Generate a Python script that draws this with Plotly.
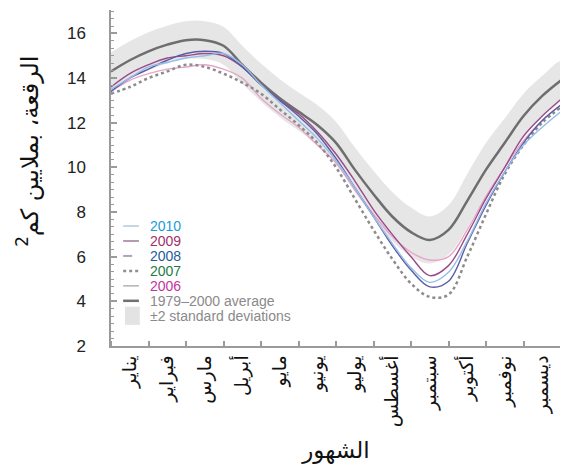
import plotly.graph_objects as go

# Month positions (half-month steps, 0 = 1 January, 12 = 31 December)
months_x = [i * 0.5 for i in range(25)]

month_labels = ["يناير", "فبراير", "مارس", "أبريل", "مايو", "يونيو",
                "يوليو", "أغسطس", "سبتمبر", "أكتوبر", "نوفمبر", "ديسمبر"]
month_centers = [i + 0.5 for i in range(12)]

avg_1979_2000 = [14.3, 14.8, 15.2, 15.5, 15.7, 15.7, 15.45, 14.6, 13.8, 13.1, 12.5, 11.9,
                 11.1, 9.9, 8.8, 7.8, 7.1, 6.75, 7.2, 8.5, 9.9, 11.1, 12.3, 13.2, 13.9]
std2 = [0.85, 0.85, 0.85, 0.85, 0.85, 0.85, 0.85, 0.85, 0.85, 0.85, 0.85, 0.9,
        0.95, 1.0, 1.05, 1.1, 1.1, 1.05, 1.1, 1.2, 1.2, 1.1, 1.0, 0.9, 0.85]

y2010 = [13.5, 14.0, 14.5, 14.7, 14.9, 15.0, 15.1, 14.6, 13.7, 12.9, 12.1, 11.3,
         10.3, 9.1, 7.8, 6.6, 5.5, 4.85, 5.3, 6.7, 8.4, 9.8, 11.0, 11.8, 12.5]
y2009 = [13.6, 14.2, 14.6, 14.9, 15.0, 15.1, 15.0, 14.5, 13.7, 13.0, 12.4, 11.6,
         10.6, 9.4, 8.1, 7.0, 6.0, 5.15, 5.6, 7.0, 8.6, 10.0, 11.4, 12.3, 13.05]
y2008 = [13.4, 14.0, 14.4, 14.8, 15.1, 15.2, 15.1, 14.5, 13.7, 13.0, 12.3, 11.5,
         10.4, 9.1, 7.8, 6.5, 5.4, 4.65, 4.9, 6.6, 8.3, 9.8, 11.1, 12.1, 12.8]
y2007 = [13.3, 13.6, 14.0, 14.3, 14.6, 14.5, 14.2, 13.8, 13.3, 12.6, 11.9, 11.1,
         10.0, 8.6, 7.2, 5.9, 4.8, 4.2, 4.3, 6.0, 7.9, 9.7, 11.0, 12.0, 12.7]
y2006 = [13.4, 13.9, 14.2, 14.4, 14.5, 14.6, 14.4, 14.0, 13.1, 12.4, 11.8, 11.0,
         10.2, 9.0, 7.9, 6.9, 6.2, 5.85, 6.0, 7.2, 8.7, 10.0, 11.2, 12.1, 12.8]

legend_labels = ["2010", "2009", "2008", "2007", "2006",
                 "1979–2000 average", "±2 standard deviations"]
legend_text_colors = ["#1a9ad6", "#a1306a", "#1f5b9a", "#1e7a45", "#c3359a",
                      "#8a8a8a", "#8a8a8a"]
legend_sample_colors = ["#b4c8dc", "#a07890", "#a0a8c0", "#909090", "#b8b0b8",
                        "#707070", "#e3e3e3"]
legend_sample_dash = ["solid", "solid", "dash", "dot", "solid", "solid", "solid"]
legend_sample_width = [1.5, 1.5, 2, 2.5, 1.5, 2.5, 0]

upper = [a + s for a, s in zip(avg_1979_2000, std2)]
lower = [a - s for a, s in zip(avg_1979_2000, std2)]

fig = go.Figure()

fig.add_trace(go.Scatter(x=months_x + months_x[::-1], y=upper + lower[::-1],
                         fill="toself", fillcolor="#e6e6e6", line=dict(width=0, shape="spline"),
                         mode="lines", hoverinfo="skip", name=legend_labels[6]))
fig.add_trace(go.Scatter(x=months_x, y=avg_1979_2000, mode="lines", name=legend_labels[5],
                         line=dict(color="#6e6e6e", width=2.5, shape="spline")))
fig.add_trace(go.Scatter(x=months_x, y=y2006, mode="lines", name="2006",
                         line=dict(color="#e6a6c8", width=1.4, shape="spline")))
fig.add_trace(go.Scatter(x=months_x, y=y2007, mode="lines", name="2007",
                         line=dict(color="#8c8c8c", width=2.5, dash="dot", shape="spline")))
fig.add_trace(go.Scatter(x=months_x, y=y2009, mode="lines", name="2009",
                         line=dict(color="#9a4a86", width=1.4, shape="spline")))
fig.add_trace(go.Scatter(x=months_x, y=y2008, mode="lines", name="2008",
                         line=dict(color="#5c5ca6", width=1.4, shape="spline")))
fig.add_trace(go.Scatter(x=months_x, y=y2010, mode="lines", name="2010",
                         line=dict(color="#94bde8", width=1.4, shape="spline")))

# Compact legend (paper coordinates inside the plot area)
leg_top = 0.357
leg_step = 0.0445
for i, (lab, tc) in enumerate(zip(legend_labels, legend_text_colors)):
    yc = leg_top - i * leg_step
    if i == 6:
        fig.add_shape(type="rect", xref="paper", yref="paper",
                      x0=0.031, x1=0.064, y0=yc - 0.027, y1=yc + 0.027,
                      fillcolor=legend_sample_colors[i], line=dict(width=0))
    else:
        fig.add_shape(type="line", xref="paper", yref="paper",
                      x0=0.027, x1=0.062, y0=yc, y1=yc,
                      line=dict(color=legend_sample_colors[i], width=legend_sample_width[i],
                                dash=legend_sample_dash[i]))
    fig.add_annotation(xref="paper", yref="paper", x=0.082, y=yc, text=lab,
                       xanchor="left", yanchor="middle", showarrow=False,
                       font=dict(family="Liberation Sans, Arial", size=14, color=tc))

# Y-axis title (rotated)
fig.add_annotation(xref="paper", yref="paper", x=-0.185, y=0.58,
                   text="الرقعة، بملايين كم<sup>2</sup>", textangle=-90, showarrow=False,
                   xanchor="center", yanchor="middle",
                   font=dict(family="DejaVu Sans", size=24, color="#111"))

fig.update_layout(
    width=568, height=469,
    margin=dict(l=103, r=15, t=2, b=131),
    paper_bgcolor="white", plot_bgcolor="white",
    showlegend=False,
    xaxis=dict(range=[0, 12], tickmode="array", tickvals=month_centers, ticktext=month_labels,
               tickangle=-90, ticks="", showgrid=False, zeroline=False,
               showline=True, linecolor="#9a9a9a", linewidth=1.5,
               tickfont=dict(family="DejaVu Sans", size=19, color="#111"),
               minor=dict(tickmode="linear", tick0=0, dtick=1, ticks="inside",
                          ticklen=5, tickcolor="#9a9a9a", tickwidth=1.5, showgrid=False),
               title=dict(text="الشهور", font=dict(family="DejaVu Sans", size=23, color="#111"),
                          standoff=16)),
    yaxis=dict(range=[2, 17.05], tickmode="array", tickvals=[2, 4, 6, 8, 10, 12, 14, 16],
               ticks="inside", ticklen=6, tickcolor="#9a9a9a", tickwidth=1.5,
               showgrid=False, zeroline=False, showline=True, linecolor="#9a9a9a", linewidth=1.5,
               ticklabelstandoff=20,
               tickfont=dict(family="Liberation Sans, Arial", size=17, color="#222"),
               minor=dict(tickmode="linear", tick0=2, dtick=1/3, ticks="inside",
                          ticklen=3, tickcolor="#9a9a9a", tickwidth=1, showgrid=False)),
)

fig.write_html("out.html")
